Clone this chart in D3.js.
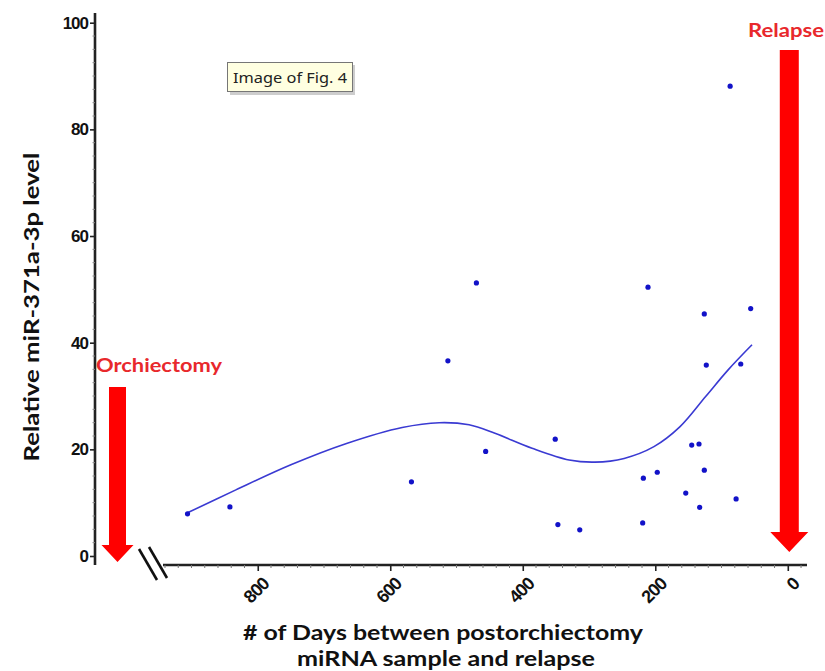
<!DOCTYPE html>
<html>
<head>
<meta charset="utf-8">
<script src="https://cdn.jsdelivr.net/npm/d3@7"></script>
<style>
  html, body { margin: 0; padding: 0; background: #fff; }
  svg { display: block; }
</style>
</head>
<body>
<svg id="chart" width="825" height="671"></svg>
<script>
// Days between the post-orchiectomy sample and relapse, with relative miR-371a-3p level
const sampleDays = [906, 842, 568, 513, 470, 456, 351, 347, 314, 219, 218, 211, 197,
                    154, 145, 134, 133, 126, 126, 123, 87, 78, 71, 56];
const sampleLevels = [7.9, 9.2, 13.9, 36.6, 51.2, 19.6, 21.9, 5.9, 4.9, 6.2, 14.6, 50.4, 15.7,
                      11.8, 20.8, 21.0, 9.1, 45.4, 16.1, 35.8, 88.1, 10.7, 36.0, 46.4];

// Smoothed trend through the samples
const trendDays = [906, 833, 750, 666, 582, 526, 481, 442, 386, 330, 291, 247, 202, 163, 124, 90, 54];
const trendLevels = [8.1, 12.4, 17.1, 21.1, 24.1, 25.0, 24.6, 23.0, 20.2, 18.0, 17.6, 18.3, 20.5, 24.2, 29.9, 34.9, 39.6];

const yTicks = [0, 20, 40, 60, 80, 100];
const xTicks = [800, 600, 400, 200, 0];

const svg = d3.select("#chart");

const x = d3.scaleLinear().domain([943, -29]).range([163, 807]);
const y = d3.scaleLinear().domain([0, 100]).range([556, 22.7]);

const tickFont = "'Liberation Sans', Arial, sans-serif";
const titleFont = "Lato, 'Open Sans', sans-serif";

// ---- Y axis ----
const yAxisG = svg.append("g").attr("transform", "translate(95,0)");
yAxisG.append("line")
  .attr("x1", 0).attr("x2", 0).attr("y1", 13).attr("y2", 565)
  .attr("stroke", "#222").attr("stroke-width", 2.6);
// minor ticks
yAxisG.selectAll("line.minor")
  .data(d3.range(0, 101, 2.5).filter(v => v % 20 !== 0))
  .join("line").attr("class", "minor")
  .attr("x1", -2.5).attr("x2", 0)
  .attr("y1", d => y(d)).attr("y2", d => y(d))
  .attr("stroke", "#888").attr("stroke-width", 1);
const yAxis = d3.axisLeft(y).tickValues(yTicks).tickSize(5).tickPadding(2);
yAxisG.call(yAxis);
yAxisG.select(".domain").remove();
yAxisG.selectAll(".tick line").attr("stroke", "#222").attr("stroke-width", 1.6);
yAxisG.selectAll(".tick text")
  .attr("font-family", tickFont).attr("font-weight", "bold")
  .attr("font-size", 17).attr("letter-spacing", -1).attr("fill", "#111");

// ---- X axis ----
const xAxisG = svg.append("g").attr("transform", "translate(0,565)");
xAxisG.append("line")
  .attr("x1", 163).attr("x2", 807).attr("y1", 0).attr("y2", 0)
  .attr("stroke", "#222").attr("stroke-width", 2.6);
xAxisG.selectAll("line.minor")
  .data(d3.range(940, -21, -20).filter(v => v % 200 !== 0))
  .join("line").attr("class", "minor")
  .attr("x1", d => x(d)).attr("x2", d => x(d))
  .attr("y1", 0).attr("y2", 3)
  .attr("stroke", "#777").attr("stroke-width", 1);
const xAxis = d3.axisBottom(x).tickValues(xTicks).tickSize(6).tickFormat(d3.format("d"));
xAxisG.call(xAxis);
xAxisG.select(".domain").remove();
xAxisG.selectAll(".tick line").attr("stroke", "#222").attr("stroke-width", 1.6);
xAxisG.selectAll(".tick text")
  .attr("font-family", tickFont).attr("font-weight", "bold")
  .attr("font-size", 18).attr("letter-spacing", -1).attr("fill", "#111")
  .attr("text-anchor", "end")
  .attr("dy", 0)
  .attr("transform", "translate(12,20) rotate(-45)")
  .attr("y", 0).attr("x", 0);

// Axis break marks
const breakG = svg.append("g").attr("stroke", "#111").attr("stroke-width", 2.6);
breakG.append("line").attr("x1", 139).attr("y1", 549).attr("x2", 157).attr("y2", 580);
breakG.append("line").attr("x1", 149).attr("y1", 547).attr("x2", 167).attr("y2", 578);

// ---- Trend curve ----
const line = d3.line()
  .x((d, i) => x(trendDays[i]))
  .y(d => y(d))
  .curve(d3.curveCatmullRom.alpha(0.5));
svg.append("path")
  .attr("d", line(trendLevels))
  .attr("fill", "none")
  .attr("stroke", "#3a3ad2")
  .attr("stroke-width", 1.6);

// ---- Points ----
svg.append("g").selectAll("circle")
  .data(sampleDays)
  .join("circle")
  .attr("cx", d => x(d))
  .attr("cy", (d, i) => y(sampleLevels[i]))
  .attr("r", 2.6)
  .attr("fill", "#1212c8");

// ---- Event arrows ----
function downArrow(cx, top, headTop, tip, shaftW, headW) {
  return `M${cx - shaftW / 2},${top} L${cx + shaftW / 2},${top} L${cx + shaftW / 2},${headTop}
          L${cx + headW / 2},${headTop} L${cx},${tip} L${cx - headW / 2},${headTop}
          L${cx - shaftW / 2},${headTop} Z`;
}
svg.append("path").attr("d", downArrow(117.5, 387, 545, 562, 17, 32)).attr("fill", "#ff0000");
svg.append("path").attr("d", downArrow(x(0) + 1.5, 50, 532, 552, 19, 38)).attr("fill", "#ff0000");

svg.append("text")
  .attr("x", 96).attr("y", 372)
  .attr("font-family", titleFont).attr("font-weight", "bold").attr("font-size", 19)
  .attr("fill", "#e8282c")
  .attr("textLength", 126).attr("lengthAdjust", "spacingAndGlyphs")
  .text("Orchiectomy");
svg.append("text")
  .attr("x", 748).attr("y", 37)
  .attr("font-family", titleFont).attr("font-weight", "bold").attr("font-size", 19)
  .attr("fill", "#e8282c")
  .attr("textLength", 76).attr("lengthAdjust", "spacingAndGlyphs")
  .text("Relapse");

// ---- Axis titles ----
svg.append("text")
  .attr("transform", "translate(39,307) rotate(-90)")
  .attr("text-anchor", "middle")
  .attr("font-family", titleFont).attr("font-weight", "bold").attr("font-size", 21)
  .attr("fill", "#111")
  .attr("textLength", 309).attr("lengthAdjust", "spacingAndGlyphs")
  .text("Relative miR-371a-3p level");

svg.append("text")
  .attr("x", 443).attr("y", 640)
  .attr("text-anchor", "middle")
  .attr("font-family", titleFont).attr("font-weight", "bold").attr("font-size", 20)
  .attr("fill", "#111")
  .attr("textLength", 400).attr("lengthAdjust", "spacingAndGlyphs")
  .text("# of Days between postorchiectomy");
svg.append("text")
  .attr("x", 446).attr("y", 666)
  .attr("text-anchor", "middle")
  .attr("font-family", titleFont).attr("font-weight", "bold").attr("font-size", 20)
  .attr("fill", "#111")
  .attr("textLength", 298).attr("lengthAdjust", "spacingAndGlyphs")
  .text("miRNA sample and relapse");

// ---- Tooltip box ----
const tip = svg.append("g").attr("transform", "translate(227,62)");
tip.append("rect").attr("x", 3).attr("y", 3).attr("width", 125).attr("height", 30)
  .attr("fill", "#b8b8b8").attr("opacity", 0.7);
tip.append("rect").attr("x", 0.5).attr("y", 0.5).attr("width", 125).attr("height", 29)
  .attr("fill", "#ffffe1").attr("stroke", "#767676").attr("stroke-width", 1);
tip.append("text")
  .attr("x", 6).attr("y", 21)
  .attr("font-family", "'Noto Sans', 'Open Sans', sans-serif").attr("font-size", 15)
  .attr("fill", "#222")
  .attr("textLength", 114).attr("lengthAdjust", "spacingAndGlyphs")
  .text("Image of Fig. 4");
</script>
</body>
</html>
